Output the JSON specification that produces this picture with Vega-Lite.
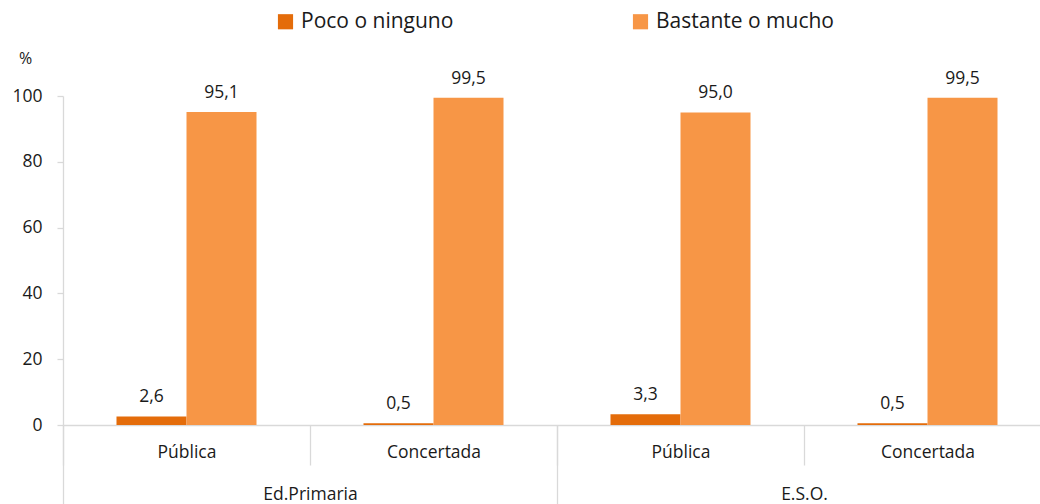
{
  "$schema": "https://vega.github.io/schema/vega-lite/v6.json",
  "autosize": "none",
  "width": 988,
  "height": 329,
  "padding": {"left": 63, "top": 96, "right": 0, "bottom": 79},
  "background": "white",
  "config": {
    "locale": {"number": {"decimal": ",", "thousands": ".", "grouping": [3], "currency": ["", " €"]}},
    "view": {"stroke": null},
    "font": "Open Sans"
  },
  "data": {
    "values": [
      {"clase": "Ed.Primaria|Pública", "grupo": "Ed.Primaria", "serie": "Poco o ninguno", "valor": 2.6},
      {"clase": "Ed.Primaria|Pública", "grupo": "Ed.Primaria", "serie": "Bastante o mucho", "valor": 95.1},
      {"clase": "Ed.Primaria|Concertada", "grupo": "Ed.Primaria", "serie": "Poco o ninguno", "valor": 0.5},
      {"clase": "Ed.Primaria|Concertada", "grupo": "Ed.Primaria", "serie": "Bastante o mucho", "valor": 99.5},
      {"clase": "E.S.O.|Pública", "grupo": "E.S.O.", "serie": "Poco o ninguno", "valor": 3.3},
      {"clase": "E.S.O.|Pública", "grupo": "E.S.O.", "serie": "Bastante o mucho", "valor": 95.0},
      {"clase": "E.S.O.|Concertada", "grupo": "E.S.O.", "serie": "Poco o ninguno", "valor": 0.5},
      {"clase": "E.S.O.|Concertada", "grupo": "E.S.O.", "serie": "Bastante o mucho", "valor": 99.5}
    ]
  },
  "layer": [
    {
      "mark": {"type": "bar", "opacity": 0},
      "encoding": {
        "x": {
          "field": "grupo", "type": "nominal", "sort": ["Ed.Primaria", "E.S.O."],
          "scale": {"paddingInner": 0, "paddingOuter": 0},
          "axis": {
            "orient": "bottom", "title": null, "domain": false,
            "tickBand": "extent", "tickSize": 79, "tickColor": "#d9d9d9", "tickWidth": 1.3,
            "labelPadding": -19, "labelAngle": 0, "labelFontSize": 17.5, "labelColor": "#1a1a1a",
            "labelFont": "Open Sans"
          }
        },
        "y": {"field": "valor", "type": "quantitative"}
      }
    },
    {
      "encoding": {
        "x": {
          "field": "clase", "type": "nominal",
          "sort": ["Ed.Primaria|Pública", "Ed.Primaria|Concertada", "E.S.O.|Pública", "E.S.O.|Concertada"],
          "scale": {"paddingInner": 0, "paddingOuter": 0},
          "axis": {
            "orient": "bottom", "title": null,
            "labelExpr": "split(datum.label, '|')[1]",
            "domainColor": "#d9d9d9", "domainWidth": 1.3,
            "tickBand": "extent", "tickSize": 40, "tickColor": "#d9d9d9", "tickWidth": 1.3,
            "labelPadding": -22, "labelAngle": 0, "labelFontSize": 17.5, "labelColor": "#1a1a1a",
            "labelFont": "Open Sans"
          }
        },
        "xOffset": {
          "field": "serie", "type": "nominal", "sort": ["Poco o ninguno", "Bastante o mucho"],
          "scale": {"paddingInner": 0, "paddingOuter": 0.764}
        },
        "y": {
          "field": "valor", "type": "quantitative",
          "scale": {"domain": [0, 100], "nice": false},
          "axis": {
            "values": [0, 20, 40, 60, 80, 100], "grid": false,
            "title": "%", "titleAngle": 0, "titleX": -38, "titleY": -30, "titleFontSize": 16,
            "titleFontWeight": "normal", "titleColor": "#1a1a1a", "titleFont": "Open Sans",
            "domainColor": "#d9d9d9", "domainWidth": 1.3,
            "tickColor": "#d9d9d9", "tickSize": 6, "tickWidth": 1.3,
            "labelFontSize": 17.5, "labelColor": "#1a1a1a", "labelPadding": 15, "labelFont": "Open Sans"
          }
        }
      },
      "layer": [
        {
          "mark": {"type": "bar"},
          "encoding": {
            "color": {
              "field": "serie", "type": "nominal",
              "sort": ["Poco o ninguno", "Bastante o mucho"],
              "scale": {"domain": ["Poco o ninguno", "Bastante o mucho"], "range": ["#E46C0A", "#F79646"]},
              "legend": {
                "title": null, "orient": "none", "direction": "horizontal",
                "legendX": 212, "legendY": -85,
                "symbolType": "square", "symbolSize": 230, "symbolStrokeWidth": 0,
                "labelFontSize": 21, "labelColor": "#1a1a1a", "labelFont": "Open Sans",
                "labelLimit": 0, "columnPadding": 176, "labelOffset": 5
              }
            }
          }
        },
        {
          "mark": {"type": "text", "baseline": "middle", "dy": -19, "fontSize": 17.5, "color": "#1a1a1a", "font": "Open Sans"},
          "encoding": {
            "text": {"field": "valor", "type": "quantitative", "format": ".1f"}
          }
        }
      ]
    }
  ],
  "resolve": {"scale": {"x": "independent"}}
}
